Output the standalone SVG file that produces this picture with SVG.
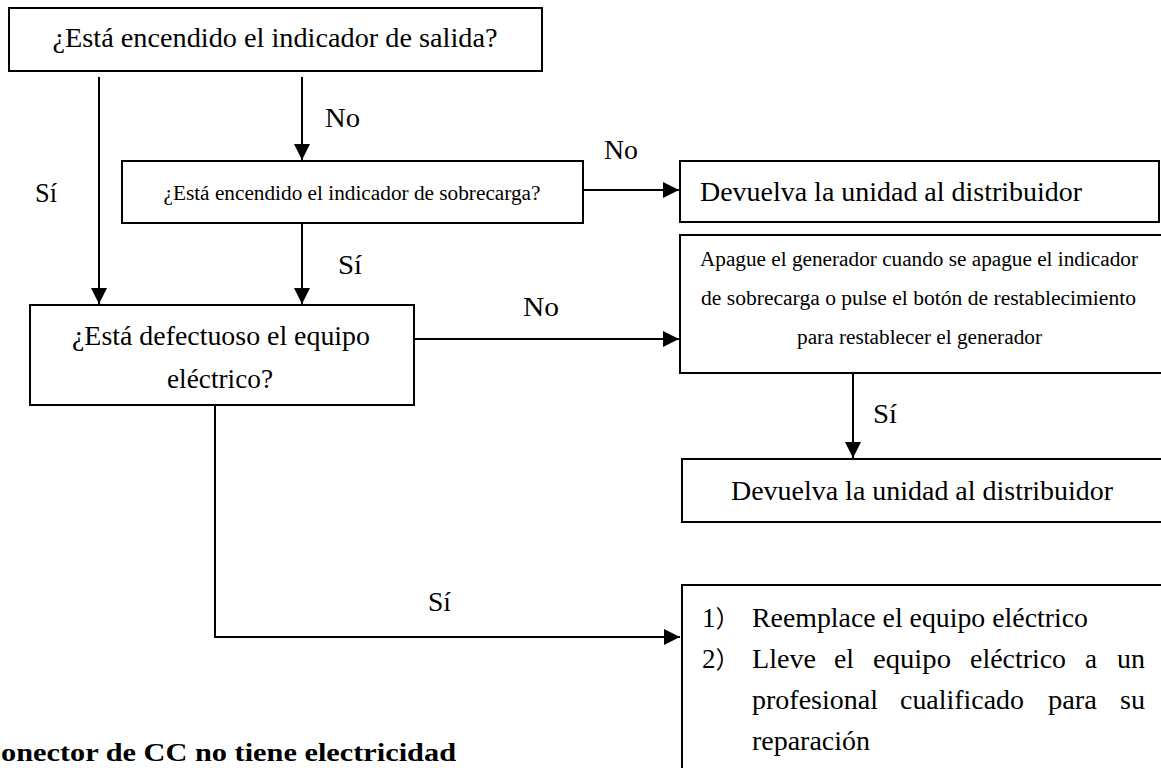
<svg xmlns="http://www.w3.org/2000/svg" width="1161" height="768" viewBox="0 0 1161 768" font-family="Liberation Serif, Times New Roman, Times, serif">
<style>
.box{fill:#fff;stroke:#000;stroke-width:2}
.t{fill:#000}
.l{font-size:27px}
.s{font-size:20px}
.b{font-size:26px;font-weight:bold}
.m{text-anchor:middle}
.conn{stroke:#000;stroke-width:2;fill:none}
</style>
<defs>
<marker id="arr" markerUnits="userSpaceOnUse" markerWidth="16" markerHeight="16" refX="16" refY="8" orient="auto">
<path d="M0,0 L16,8 L0,16 z" fill="#000"/>
</marker>
</defs>
<rect width="1161" height="768" fill="#fff"/>

<g id="connectors">
<line class="conn" x1="99" y1="77" x2="99" y2="304" marker-end="url(#arr)"/>
<line class="conn" x1="302" y1="77" x2="302" y2="160" marker-end="url(#arr)"/>
<line class="conn" x1="302" y1="223" x2="302" y2="304" marker-end="url(#arr)"/>
<line class="conn" x1="583" y1="190" x2="679" y2="190" marker-end="url(#arr)"/>
<line class="conn" x1="414" y1="339" x2="679" y2="339" marker-end="url(#arr)"/>
<line class="conn" x1="853" y1="373" x2="853" y2="458" marker-end="url(#arr)"/>
<polyline class="conn" points="215,405 215,637 680,637" marker-end="url(#arr)"/>
<text class="t l" x="325" y="127" textLength="35" lengthAdjust="spacingAndGlyphs">No</text>
<text class="t l" x="35" y="202" textLength="22" lengthAdjust="spacingAndGlyphs">Sí</text>
<text class="t l" x="604" y="159" textLength="34" lengthAdjust="spacingAndGlyphs">No</text>
<text class="t l" x="338" y="274" textLength="24" lengthAdjust="spacingAndGlyphs">Sí</text>
<text class="t l" x="523" y="316" textLength="36" lengthAdjust="spacingAndGlyphs">No</text>
<text class="t l" x="873" y="423" textLength="24" lengthAdjust="spacingAndGlyphs">Sí</text>
<text class="t l" x="428" y="611" textLength="23" lengthAdjust="spacingAndGlyphs">Sí</text>
</g>

<g id="n-salida">
<rect class="box" x="9" y="8" width="533" height="63"/>
<text class="t l m" x="275" y="47" textLength="445" lengthAdjust="spacingAndGlyphs">¿Está encendido el indicador de salida?</text>
</g>

<g id="n-sobrecarga">
<rect class="box" x="122" y="161" width="461" height="62"/>
<text class="t s m" x="352" y="200" textLength="377" lengthAdjust="spacingAndGlyphs">¿Está encendido el indicador de sobrecarga?</text>
</g>

<g id="n-defectuoso">
<rect class="box" x="30" y="305" width="384" height="100"/>
<text class="t l m" x="221" y="345" textLength="298" lengthAdjust="spacingAndGlyphs">¿Está defectuoso el equipo</text>
<text class="t l m" x="220" y="388" textLength="106" lengthAdjust="spacingAndGlyphs">eléctrico?</text>
</g>

<g id="n-devuelva1">
<rect class="box" x="680" y="161" width="479" height="61"/>
<text class="t l" x="700" y="201" textLength="382" lengthAdjust="spacingAndGlyphs">Devuelva la unidad al distribuidor</text>
</g>

<g id="n-apague">
<rect class="box" x="680" y="235" width="500" height="138"/>
<text class="t s" x="700" y="266" textLength="438" lengthAdjust="spacingAndGlyphs">Apague el generador cuando se apague el indicador</text>
<text class="t s" x="701" y="305" textLength="435" lengthAdjust="spacingAndGlyphs">de sobrecarga o pulse el botón de restablecimiento</text>
<text class="t s" x="797" y="344" textLength="245" lengthAdjust="spacingAndGlyphs">para restablecer el generador</text>
</g>

<g id="n-devuelva2">
<rect class="box" x="682" y="459" width="500" height="63"/>
<text class="t l" x="731" y="500" textLength="382" lengthAdjust="spacingAndGlyphs">Devuelva la unidad al distribuidor</text>
</g>

<g id="n-acciones">
<rect class="box" x="682" y="585" width="500" height="200"/>
<text class="t l" x="702" y="627">1<tspan font-family="Noto Sans CJK SC, sans-serif" font-size="24">）</tspan></text>
<text class="t l" x="752" y="627" textLength="336" lengthAdjust="spacingAndGlyphs">Reemplace el equipo eléctrico</text>
<text class="t l" x="702" y="668">2<tspan font-family="Noto Sans CJK SC, sans-serif" font-size="24">）</tspan></text>
<text class="t l" x="752" y="668" textLength="64" lengthAdjust="spacingAndGlyphs">Lleve</text>
<text class="t l" x="834" y="668" textLength="20" lengthAdjust="spacingAndGlyphs">el</text>
<text class="t l" x="873" y="668" textLength="78" lengthAdjust="spacingAndGlyphs">equipo</text>
<text class="t l" x="970" y="668" textLength="96" lengthAdjust="spacingAndGlyphs">eléctrico</text>
<text class="t l" x="1085" y="668" textLength="12" lengthAdjust="spacingAndGlyphs">a</text>
<text class="t l" x="1117" y="668" textLength="28" lengthAdjust="spacingAndGlyphs">un</text>
<text class="t l" x="752" y="709" textLength="126" lengthAdjust="spacingAndGlyphs">profesional</text>
<text class="t l" x="900" y="709" textLength="124" lengthAdjust="spacingAndGlyphs">cualificado</text>
<text class="t l" x="1048" y="709" textLength="49" lengthAdjust="spacingAndGlyphs">para</text>
<text class="t l" x="1120" y="709" textLength="25" lengthAdjust="spacingAndGlyphs">su</text>
<text class="t l" x="752" y="750" textLength="118" lengthAdjust="spacingAndGlyphs">reparación</text>
</g>

<g id="heading">
<text class="t b" x="1" y="761" textLength="455" lengthAdjust="spacingAndGlyphs">onector de CC no tiene electricidad</text>
</g>
</svg>
